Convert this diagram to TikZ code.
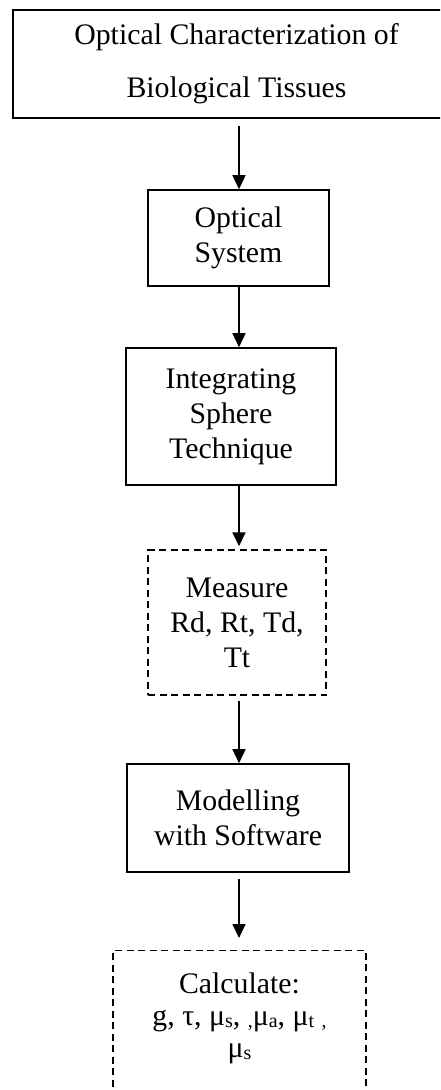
\documentclass[tikz,border=0pt]{standalone}
\usepackage{fontspec}
\setmainfont{Liberation Serif}
\usetikzlibrary{arrows.meta}
\newcommand\subs[1]{\raisebox{-2.5pt}{\fontsize{20}{20}\selectfont #1}}
\begin{document}
\begin{tikzpicture}[x=1pt,y=-1pt,
  box/.style={draw, line width=1.6pt, inner sep=0pt, align=center, font=\fontsize{29.8}{35}\selectfont},
  dbox/.style={box, line width=1.4pt, dash pattern=on 7pt off 4.5pt},
  arr/.style={line width=1.6pt, -{Triangle[width=13pt,length=14pt]}}]
\useasboundingbox (0,0) rectangle (440,1090);
\clip (0,0) rectangle (440,1090);
\coordinate (axis) at (239,0);
\node[box, minimum width=447pt, minimum height=108pt, font=\fontsize{29.8}{53}\selectfont] (b1) at (236.5,64) {Optical Characterization of\\Biological Tissues};
\node[box, minimum width=181pt, minimum height=96pt] (b2) at (238.5,238) {Optical\\System};
\node[box, minimum width=210pt, minimum height=137pt] (b3) at (231,416.5) {Integrating\\Sphere\\Technique};
\node[dbox, minimum width=178pt, minimum height=145pt] (b4) at (237,622.5) {Measure\\Rd, Rt, Td,\\Tt};
\node[box, minimum width=222pt, minimum height=108pt] (b5) at (238,818) {Modelling\\with Software};
\node[dbox, minimum width=253pt, minimum height=170pt, anchor=north] (b6) at (239.5,950) {};
\node[align=center, inner sep=0pt, anchor=north, font=\fontsize{29.8}{32}\selectfont] (calc) at (239.5,972.5) {Calculate:\\g, τ, μ\subs{s}, \subs{,}μ\subs{a}, μ\subs{t} \subs{,}\\μ\subs{s}};
\draw[arr, shorten <=7pt] (b1.south -| axis) -- (b2.north -| axis);
\draw[arr] (b2.south -| axis) -- (b3.north -| axis);
\draw[arr, shorten >=3pt] (b3.south -| axis) -- (b4.north -| axis);
\draw[arr, shorten <=5pt] (b4.south -| axis) -- (b5.north -| axis);
\draw[arr, shorten <=6pt, shorten >=12pt] (b5.south -| axis) -- (b6.north -| axis);
\end{tikzpicture}
\end{document}
